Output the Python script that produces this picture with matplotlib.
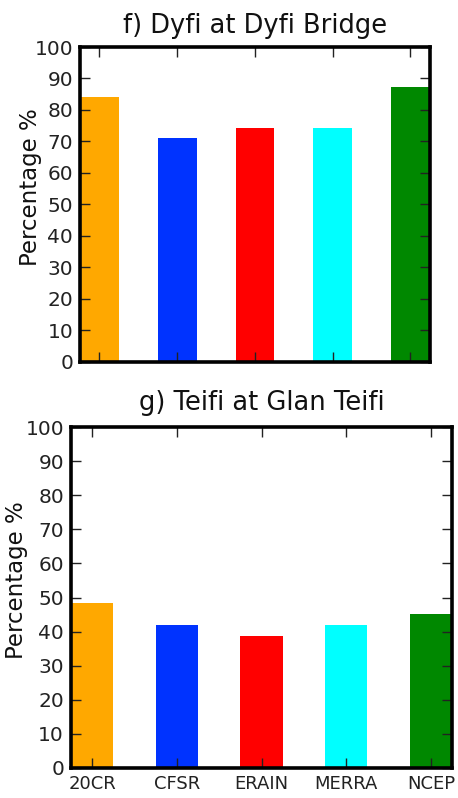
import numpy as np
import matplotlib
matplotlib.use('Agg')
import matplotlib.pyplot as plt

reanalyses = ['20CR', 'CFSR', 'ERAIN', 'MERRA', 'NCEP']
bar_colors = ['#FFA800', '#0033FF', '#FF0000', '#00FFFF', '#008800']
dyfi_pct = [84.1, 71.1, 74.3, 74.3, 87.4]
teifi_pct = [48.4, 42.0, 38.8, 42.0, 45.2]


def percent_panel(ax, values, title, show_names, title_pad):
    x = np.arange(len(values))
    ax.bar(x, values, width=0.5, color=bar_colors, align='center', linewidth=0)
    ax.set_xlim(-0.25, len(values) - 0.75)
    ax.set_ylim(0, 100)
    ax.set_yticks(np.arange(0, 101, 10))
    ax.set_xticks(x)
    if show_names:
        ax.set_xticklabels(reanalyses)
    else:
        ax.set_xticklabels([])
    ax.tick_params(direction='in', length=7, width=1, top=True, right=True,
                   labelsize=14.5, colors='#222222', labelcolor='#222222', pad=5)
    ax.tick_params(axis='x', labelsize=13)
    for s in ax.spines.values():
        s.set_linewidth(2.6)
    ax.set_title(title, fontsize=18.5, pad=title_pad, color='#111111')
    ax.set_ylabel('Percentage %', fontsize=16.5, color='#111111')


fig = plt.figure(figsize=(4.58, 7.98), dpi=100)

ax1 = fig.add_axes([0.1747, 0.5464, 0.764, 0.3947])
percent_panel(ax1, dyfi_pct, 'f) Dyfi at Dyfi Bridge', False, 10)
ax1.yaxis.set_label_coords(-0.11, 0.556)

ax2 = fig.add_axes([0.155, 0.0376, 0.832, 0.4273])
percent_panel(ax2, teifi_pct, 'g) Teifi at Glan Teifi', True, 12)
ax2.yaxis.set_label_coords(-0.113, 0.551)

fig.savefig('out.png', dpi=100)
